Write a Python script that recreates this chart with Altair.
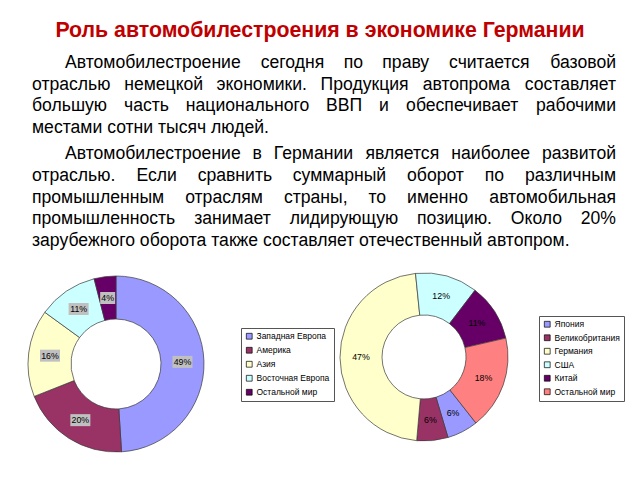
import math
import altair as alt
import pandas as pd

# ---------------- data ----------------
title_text = "Роль автомобилестроения в экономике Германии"

paragraph_lines = [
    "Автомобилестроение сегодня по праву считается базовой",
    "отраслью немецкой экономики. Продукция автопрома составляет",
    "большую часть национального ВВП и обеспечивает рабочими",
    "местами сотни тысяч людей.",
    "Автомобилестроение в Германии является наиболее развитой",
    "отраслью. Если сравнить суммарный оборот по различным",
    "промышленным отраслям страны, то именно автомобильная",
    "промышленность занимает лидирующую позицию. Около 20%",
    "зарубежного оборота также составляет отечественный автопром.",
]
line_justified = [True, True, True, False, True, True, True, True, False]
line_indented = [True, False, False, False, True, False, False, False, False]
line_paragraph = [0, 0, 0, 0, 1, 1, 1, 1, 1]

regions = ["Западная Европа", "Америка", "Азия", "Восточная Европа", "Остальной мир"]
region_share = [49, 20, 16, 11, 4]

countries = ["Япония", "Великобритания", "Германия", "США", "Китай", "Остальной мир"]
country_share = [6, 6, 47, 12, 11, 18]

colors_regions = ["#9999FF", "#993366", "#FFFFCC", "#CCFFFF", "#660066"]
colors_countries = ["#9999FF", "#993366", "#FFFFCC", "#CCFFFF", "#660066", "#FF8080"]

# ---------------- layout / style ----------------
FONT = "Liberation Sans"
BODY_SIZE = 17.6
LEFT, INDENT_LEFT, RIGHT = 32, 65, 616
LINE_TOP, LINE_STEP, PARA_GAP = 63, 21.6, 5

# Arial / Liberation Sans advance widths (per 1000 em)
W = {
    "а": 556, "б": 573, "в": 531, "г": 365, "д": 584, "е": 556, "ж": 667, "з": 458,
    "и": 559, "й": 559, "к": 438, "л": 584, "м": 684, "н": 552, "о": 556, "п": 542,
    "р": 556, "с": 500, "т": 458, "у": 500, "ф": 822, "х": 500, "ц": 573, "ч": 521,
    "ш": 802, "щ": 822, "ъ": 625, "ы": 720, "ь": 521, "э": 510, "ю": 750, "я": 542,
    "А": 667, "Б": 656, "В": 667, "Г": 542, "Д": 684, "Е": 667, "Ж": 923, "З": 604,
    "И": 720, "К": 583, "Л": 656, "М": 833, "Н": 722, "О": 778, "П": 722, "Р": 667,
    "С": 722, "Т": 611, "У": 635, "Ф": 760, "Х": 667, "Ц": 740, "Ч": 667, "Ш": 916,
    "Э": 722, "Ю": 1010, "Я": 722, " ": 278, ".": 278, ",": 278, "%": 889,
}


def tw(s, size):
    return sum(W.get(ch, 556) for ch in s) / 1000.0 * size


rows = []
for i, line in enumerate(paragraph_lines):
    y = LINE_TOP + i * LINE_STEP + line_paragraph[i] * PARA_GAP
    left = INDENT_LEFT if line_indented[i] else LEFT
    if not line_justified[i]:
        rows.append({"word": line, "x": left, "y": y, "anchor": "left"})
        continue
    words = line.split()
    widths = [tw(w, BODY_SIZE) for w in words]
    gap = (RIGHT - left - sum(widths)) / (len(words) - 1)
    cur = left
    for j, (w, wd) in enumerate(zip(words, widths)):
        if j == 0:
            rows.append({"word": w, "x": left, "y": y, "anchor": "left"})
        elif j == len(words) - 1:
            rows.append({"word": w, "x": RIGHT, "y": y, "anchor": "right"})
        else:
            rows.append({"word": w, "x": cur + wd / 2, "y": y, "anchor": "center"})
        cur += wd + gap
words_df = pd.DataFrame(rows)

text_layers = []
for anchor in ["left", "center", "right"]:
    text_layers.append(
        alt.Chart(words_df)
        .transform_filter(alt.datum.anchor == anchor)
        .mark_text(align=anchor, baseline="middle", font=FONT, fontSize=BODY_SIZE, color="#000000")
        .encode(
            x=alt.X("x:Q", scale=None, axis=None),
            y=alt.Y("y:Q", scale=None, axis=None),
            text="word:N",
        )
    )

title = (
    alt.Chart(pd.DataFrame({"t": [title_text]}))
    .mark_text(align="center", baseline="middle", font=FONT, fontSize=21.3, fontWeight="bold", color="#C00000")
    .encode(x=alt.value(320), y=alt.value(31), text="t:N")
)


def donut(names, shares, colors, cx, cy, r_out, r_in, start_deg, legend_x, legend_y, row_pad, boxes):
    df = pd.DataFrame({"name": names, "share": shares, "idx": list(range(len(names)))})
    a0 = math.radians(start_deg)
    theta_scale = alt.Scale(range=[a0, a0 + 2 * math.pi])
    r_mid = (r_out + r_in) / 2
    arc = alt.Chart(df).mark_arc(radius=r_out, radius2=r_in, stroke="#3a3a3a", strokeWidth=0.7).encode(
        theta=alt.Theta("share:Q", stack=True, scale=theta_scale),
        color=alt.Color(
            "name:N",
            scale=alt.Scale(domain=names, range=colors),
            legend=alt.Legend(
                title=None, orient="none", legendX=legend_x, legendY=legend_y,
                symbolType="square", symbolSize=34, symbolStrokeColor="#000000",
                symbolStrokeWidth=0.7, labelFont=FONT, labelFontSize=8.5,
                labelColor="#000000", labelOffset=3, rowPadding=row_pad,
                padding=4, strokeColor="#555555", fillColor="#FFFFFF",
            ),
        ),
        order=alt.Order("idx:Q"),
        x=alt.value(cx),
        y=alt.value(cy),
    )
    labels = (
        alt.Chart(df)
        .transform_calculate(label="datum.share + '%'")
        .mark_text(radius=r_mid, font=FONT, fontSize=8.8, color="#000000", baseline="middle", align="center")
        .encode(
            theta=alt.Theta("share:Q", stack=True, scale=theta_scale),
            order=alt.Order("idx:Q"),
            text="label:N",
            x=alt.value(cx),
            y=alt.value(cy),
        )
    )
    layers = [arc]
    if boxes:
        box = (
            alt.Chart(df)
            .transform_window(cum="sum(share)", sort=[alt.SortField("idx")], frame=[None, 0])
            .transform_joinaggregate(total="sum(share)")
            .transform_calculate(
                label="datum.share + '%'",
                ang=f"{a0} + (datum.cum - datum.share / 2) / datum.total * 2 * PI",
            )
            .transform_calculate(
                px=f"{cx} + {r_mid} * sin(datum.ang)",
                py=f"{cy} - {r_mid} * cos(datum.ang)",
                w="length(datum.label) * 5 + 5",
            )
            .transform_calculate(
                x0="datum.px - datum.w / 2", x1="datum.px + datum.w / 2",
                y0="datum.py - 6", y1="datum.py + 6",
            )
            .mark_rect(color="#C0C0C0")
            .encode(
                x=alt.X("x0:Q", scale=None, axis=None), x2="x1:Q",
                y=alt.Y("y0:Q", scale=None, axis=None), y2="y1:Q",
            )
        )
        layers.append(box)
    layers.append(labels)
    return alt.layer(*layers)


donut1 = donut(regions, region_share, colors_regions, 116, 364, 88, 45, 0, 241, 328, 4, True)
donut2 = donut(countries, country_share, colors_countries, 424, 357, 84, 42, 141.8, 539, 316, 3.5, False)

chart = (
    alt.layer(title, *text_layers, donut1, donut2)
    .resolve_scale(theta="independent", color="independent")
    .properties(width=640, height=480, autosize=alt.AutoSizeParams(type="none"), padding=0, background="#FFFFFF")
    .configure_view(stroke=None)
)

chart.save("out.html", embed_options={"renderer": "svg", "actions": False})
